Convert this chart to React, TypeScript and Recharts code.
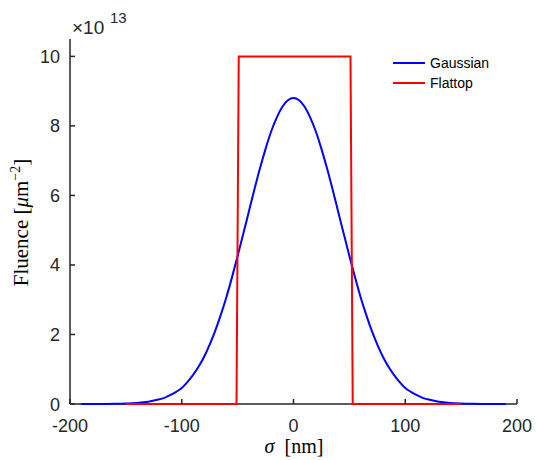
import React from 'react'
import { LineChart, Line, XAxis, YAxis, Legend } from 'recharts'

// sigma positions (nm) and Gaussian fluence (x 10^13 um^-2)
const gaussX = [
  -190, -180, -170, -160, -150, -140, -130, -120, -115, -110, -105, -100, -95, -90, -85, -80, -75, -70, -65, -60,
  -55, -50, -45, -40, -35, -30, -25, -20, -15, -10, -5, 0, 5, 10, 15, 20, 25, 30, 35, 40, 45, 50, 55, 60, 65, 70,
  75, 80, 85, 90, 95, 100, 105, 110, 115, 120, 130, 140, 150, 160, 170, 180, 190,
]
const gaussY = [
  0.0001, 0.0005, 0.002, 0.005, 0.013, 0.03, 0.065, 0.135, 0.185, 0.26, 0.35, 0.46, 0.63, 0.83, 1.07, 1.36, 1.71,
  2.11, 2.57, 3.08, 3.65, 4.26, 4.89, 5.53, 6.17, 6.78, 7.34, 7.84, 8.24, 8.55, 8.74, 8.8, 8.74, 8.55, 8.24, 7.84,
  7.34, 6.78, 6.17, 5.53, 4.89, 4.26, 3.65, 3.08, 2.57, 2.11, 1.71, 1.36, 1.07, 0.83, 0.63, 0.46, 0.35, 0.26, 0.185,
  0.135, 0.065, 0.03, 0.013, 0.005, 0.002, 0.0005, 0.0001,
]

// flattop profile
const flatX = [-150, -51, -49, 51, 53, 150]
const flatY = [0, 0, 10, 10, 0, 0]

const xTicks = [-200, -100, 0, 100, 200]
const yTicks = [0, 2, 4, 6, 8, 10]

const gaussData = gaussX.map((x, i) => ({ x, y: gaussY[i] }))
const flatData = flatX.map((x, i) => ({ x, y: flatY[i] }))

const AX = '#262626'
const SANS = '"Liberation Sans", Arial, Helvetica, sans-serif'
const SERIF = '"Liberation Serif", "Times New Roman", serif'

const BottomTick = (props: any) => {
  const { x, y, payload } = props
  return (
    <g>
      <line x1={x} x2={x} y1={y} y2={y - 5} stroke={AX} strokeWidth={1.5} />
      <text x={x} y={y + 28} textAnchor="middle" fontFamily={SANS} fontSize={18} fill={AX}>
        {payload.value}
      </text>
    </g>
  )
}

const TopTick = (props: any) => {
  const { x, y } = props
  return <line x1={x} x2={x} y1={y} y2={y + 5} stroke={AX} strokeWidth={1.5} />
}

const LeftTick = (props: any) => {
  const { x, y, payload } = props
  return (
    <g>
      <line x1={x} x2={x + 5} y1={y} y2={y} stroke={AX} strokeWidth={1.5} />
      <text x={x - 10} y={y + 6.5} textAnchor="end" fontFamily={SANS} fontSize={18} fill={AX}>
        {payload.value}
      </text>
    </g>
  )
}

const RightTick = (props: any) => {
  const { x, y } = props
  return <line x1={x} x2={x - 5} y1={y} y2={y} stroke={AX} strokeWidth={1.5} />
}

const legendItems = [
  { name: 'Gaussian', color: '#0000ff' },
  { name: 'Flattop', color: '#ff0000' },
]

const LegendBox = () => (
  <div style={{ fontFamily: SANS, fontSize: 14, color: '#000' }}>
    {legendItems.map(it => (
      <div key={it.name} style={{ display: 'flex', alignItems: 'center', height: 20 }}>
        <svg width={32} height={4}>
          <line x1={0} x2={32} y1={2} y2={2} stroke={it.color} strokeWidth={2} />
        </svg>
        <span style={{ marginLeft: 5 }}>{it.name}</span>
      </div>
    ))}
  </div>
)

export default function App() {
  const axisLine = { stroke: AX, strokeWidth: 1.5 }
  return (
    <div style={{ position: 'absolute', left: 0, top: 0, width: 536, height: 460, background: '#fff' }}>
      <LineChart width={536} height={460} margin={{ top: 39, right: 19, bottom: 26, left: 0 }}>
        <XAxis
          dataKey="x"
          type="number"
          domain={[-200, 200]}
          ticks={xTicks}
          interval={0}
          height={30}
          tickSize={0}
          tickMargin={0}
          tickLine={false}
          axisLine={axisLine}
          tick={<BottomTick />}
        />
        <XAxis
          xAxisId="t"
          orientation="top"
          dataKey="x"
          type="number"
          domain={[-200, 200]}
          ticks={xTicks}
          interval={0}
          height={0}
          tickSize={0}
          tickMargin={0}
          tickLine={false}
          axisLine={axisLine}
          tick={<TopTick />}
        />
        <YAxis
          type="number"
          domain={[0, 10.5]}
          ticks={yTicks}
          interval={0}
          width={70}
          tickSize={0}
          tickMargin={0}
          tickLine={false}
          axisLine={axisLine}
          tick={<LeftTick />}
        />
        <YAxis
          yAxisId="r"
          orientation="right"
          type="number"
          domain={[0, 10.5]}
          ticks={yTicks}
          interval={0}
          width={0}
          tickSize={0}
          tickMargin={0}
          tickLine={false}
          axisLine={axisLine}
          tick={<RightTick />}
        />
        <Line
          data={gaussData}
          dataKey="y"
          name="Gaussian"
          type="monotone"
          stroke="#0000ff"
          strokeWidth={2}
          dot={false}
          isAnimationActive={false}
          zIndex={600}
        />
        <Line
          data={flatData}
          dataKey="y"
          name="Flattop"
          type="linear"
          stroke="#ff0000"
          strokeWidth={2}
          dot={false}
          isAnimationActive={false}
          zIndex={610}
        />
        <Legend
          layout="vertical"
          align="center"
          verticalAlign="middle"
          content={<LegendBox />}
          wrapperStyle={{ position: 'absolute', left: 393, top: 53, width: 'auto', height: 'auto' }}
        />
      </LineChart>
      <svg
        width={536}
        height={460}
        style={{ position: 'absolute', left: 0, top: 0, pointerEvents: 'none' }}
      >
        <text x={72} y={34} fontFamily={SANS} fontSize={19} fill={AX}>
          ×10
        </text>
        <text x={110} y={23} fontFamily={SANS} fontSize={15} fill={AX}>
          13
        </text>
        <text
          transform="translate(28,222.5) rotate(-90)"
          textAnchor="middle"
          fontFamily={SERIF}
          fontSize={21}
          fill="#000"
        >
          Fluence [<tspan fontStyle="italic">μ</tspan>m
          <tspan dy={-8} fontSize={14}>
            −2
          </tspan>
          <tspan dy={8}>]</tspan>
        </text>
        <text x={294} y={453} textAnchor="middle" fontFamily={SERIF} fontSize={20} fill="#000">
          <tspan fontStyle="italic">σ</tspan>{'\u00a0 '}[nm]
        </text>
      </svg>
    </div>
  )
}
